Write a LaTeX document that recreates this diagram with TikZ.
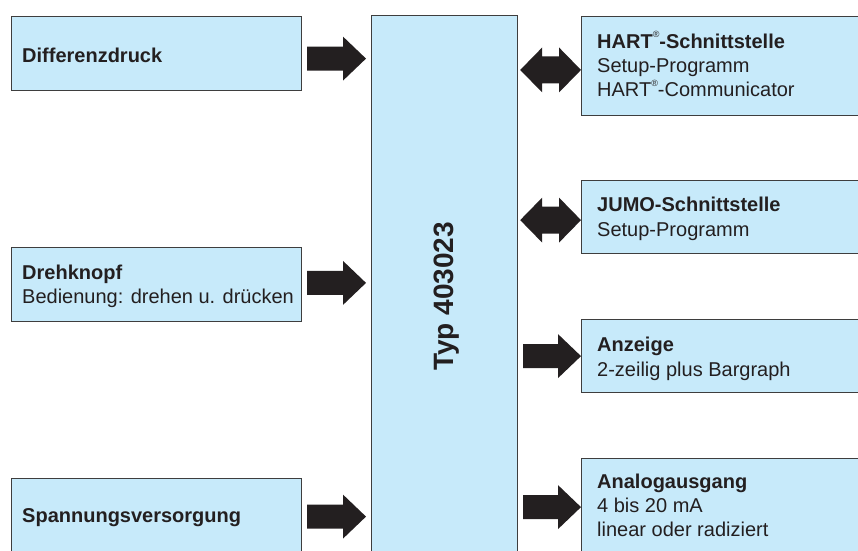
\documentclass[tikz,border=0pt]{standalone}
\usepackage{fontspec}
\setmainfont{Liberation Sans}
\usetikzlibrary{calc}
\definecolor{boxblue}{RGB}{199,234,250}
\definecolor{boxline}{RGB}{62,62,62}
\definecolor{inkblack}{RGB}{35,31,32}
\newcommand{\regmark}{\raisebox{0.52em}{\fontsize{9}{9}\selectfont\mdseries ®}}
\newcommand{\fatarrow}[2]{%
\coordinate (tail) at #1;
\coordinate (tip) at #2;
\fill[inkblack] ($(tail)+(0,-12)$) -- ($(tip)+(-23,-12)$) -- ($(tip)+(-23,-22)$) -- (tip)
  -- ($(tip)+(-23,22)$) -- ($(tip)+(-23,12)$) -- ($(tail)+(0,12)$) -- cycle;}
\newcommand{\twinarrow}[2]{%
\coordinate (ltip) at #1;
\coordinate (rtip) at #2;
\fill[inkblack] (ltip) -- ($(ltip)+(22,-22.5)$) -- ($(ltip)+(22,-13.5)$) -- ($(rtip)+(-22,-13.5)$)
  -- ($(rtip)+(-22,-22.5)$) -- (rtip) -- ($(rtip)+(-22,22.5)$) -- ($(rtip)+(-22,13.5)$)
  -- ($(ltip)+(22,13.5)$) -- ($(ltip)+(22,22.5)$) -- cycle;}

\begin{document}
\begin{tikzpicture}[x=1pt,y=-1pt,line join=miter,
  block/.style={draw=boxline,line width=1.2pt,fill=boxblue,inner sep=0pt,anchor=north west},
  blocktext/.style={anchor=base west,inner sep=0pt,align=left,text=inkblack,font=\fontsize{20}{24.3}\selectfont}]
\useasboundingbox (0,0) rectangle (858,550);
\clip (0,0) rectangle (858,550);
% inputs
\node[block,minimum width=290.5pt,minimum height=74pt] (diff) at (10.5,15.5) {};
\node[block,minimum width=290.5pt,minimum height=74pt] (dreh) at (10.5,247) {};
\node[block,minimum width=290.5pt,minimum height=76pt] (spann) at (10.5,478) {};
\node[blocktext] (difftext) at (22,62.3) {\textbf{Differenzdruck}};
\node[blocktext] (drehtext) at (22,303.3) {\textbf{Drehknopf}\\Bedienung: drehen u. drücken};
\node[blocktext] (spanntext) at (22,522.7) {\textbf{Spannungsversorgung}};
% device
\node[block,minimum width=146.5pt,minimum height=546pt] (typ) at (370.5,14.7) {};
\node[rotate=90,anchor=base,inner sep=0pt,text=inkblack,font=\bfseries\fontsize{28}{28}\selectfont] (typtext) at (453,296.5) {Typ 403023};
% outputs
\node[block,minimum width=290pt,minimum height=99.3pt] (hart) at (581,15.7) {};
\node[block,minimum width=290pt,minimum height=73pt] (jumo) at (581,180) {};
\node[block,minimum width=290pt,minimum height=73pt] (anz) at (581,319) {};
\node[block,minimum width=290pt,minimum height=97pt] (ana) at (581,458) {};
\node[blocktext] (harttext) at (597,96.7) {\textbf{HART\regmark-Schnittstelle}\\Setup-Programm\\HART\regmark-Communicator};
\node[blocktext] (jumotext) at (597,236) {\textbf{JUMO-Schnittstelle}\\Setup-Programm};
\node[blocktext] (anztext) at (597,376) {\textbf{Anzeige}\\2-zeilig plus Bargraph};
\node[blocktext] (anatext) at (597,536.7) {\textbf{Analogausgang}\\4 bis 20 mA\\linear oder radiziert};
% arrows
\fatarrow{($(diff.east)+(5,5.5)$)}{($(diff.east -| typ.west)+(-4.5,5.5)$)}
\fatarrow{($(dreh.east)+(5,-1.7)$)}{($(dreh.east -| typ.west)+(-4.5,-1.7)$)}
\fatarrow{($(spann.east)+(5,0)$)}{($(spann.east -| typ.west)+(-4.5,0)$)}
\twinarrow{($(hart.west -| typ.east)+(2,4)$)}{($(hart.west)+(0,4)$)}
\twinarrow{($(jumo.west -| typ.east)+(2,3)$)}{($(jumo.west)+(0,3)$)}
\fatarrow{($(anz.west -| typ.east)+(5,0)$)}{(anz.west)}
\fatarrow{($(ana.west -| typ.east)+(5,0)$)}{(ana.west)}
\end{tikzpicture}
\end{document}
